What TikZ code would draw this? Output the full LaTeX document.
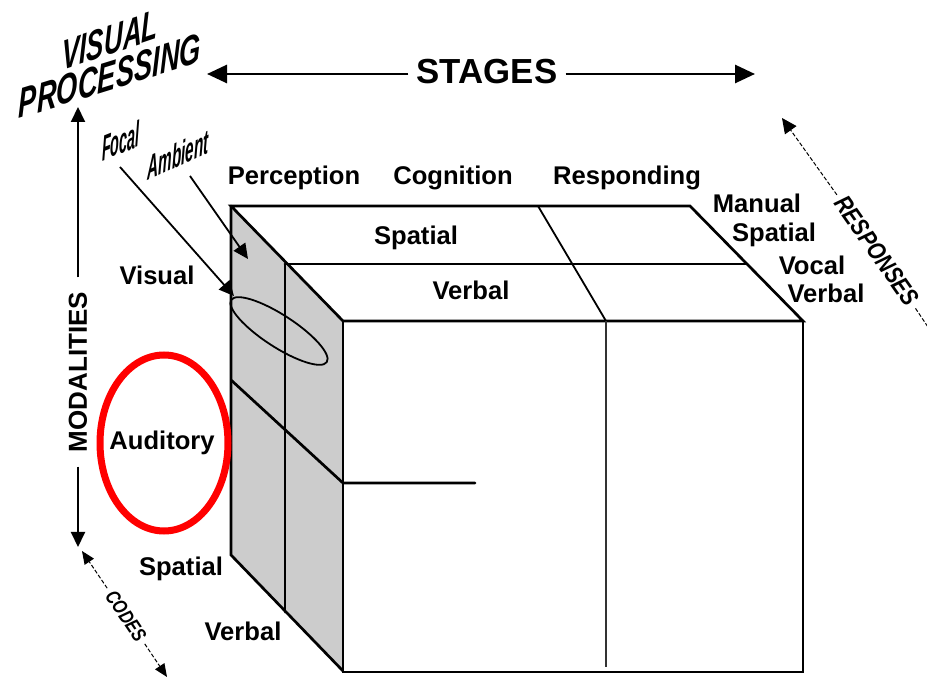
\documentclass[tikz,border=0pt]{standalone}
\usepackage{fontspec}
\setmainfont{Liberation Sans}
\usetikzlibrary{arrows.meta}
\begin{document}
\begin{tikzpicture}[x=0.5pt,y=-0.5pt,
  lbl/.style={font=\bfseries\fontsize{12.8pt}{15pt}\selectfont, inner sep=0pt, anchor=base},
  cubeline/.style={line width=1.35pt, line join=miter, line cap=round},
  fine/.style={line width=0.9pt},
  hair/.style={line width=0.5pt, dash pattern=on 2pt off 1pt},
  bigtip/.style={-{Triangle[length=10pt,width=9pt]}},
  midtip/.style={-{Triangle[length=7.5pt,width=7pt]}},
  smalltip/.style={-{Triangle[length=6.5pt,width=5.5pt]}},
  slanted/.style={font=\bfseries\itshape\fontsize{21pt}{23pt}\selectfont, inner sep=0pt}
]
\useasboundingbox (0,0) rectangle (927,678);

% shaded left face of the block
\fill[black!20] (231,206) -- (343,321) -- (343,670) -- (231,555) -- cycle;

% top face
\draw[cubeline] (231,206) -- (690,206) -- (803,321) -- (343,321) -- cycle;
\draw[cubeline] (285,264) -- (747,264);
% front face
\draw[cubeline] (343,321) -- (343,672) -- (803,672) -- (803,321);
% left face
\draw[cubeline] (231,206) -- (231,555) -- (343,671);
\draw[cubeline] (285,264) -- (285,612);
\draw[cubeline] (231,380) -- (343,483) -- (475,483);

% stage divider
\draw[fine] (538,206) -- (606,321);
\draw[fine, black!80] (606,321) -- (606,667);

% focal region on the left face
\draw[fine, rotate around={-33:(279,331)}] (279,331) ellipse [x radius=57, y radius=16];

% auditory highlight
\draw[red, line width=3.5pt] (164,443) ellipse [x radius=64, y radius=88];

% stage labels
\node[lbl] (perc) at (294,185) {Perception};
\node[lbl] (cogn) at (453,185) {Cognition};
\node[lbl] (resp) at (627,185) {Responding};

% codes on the top face
\node[lbl] (topSpatial) at (416,245) {Spatial};
\node[lbl] (topVerbal) at (471,300) {Verbal};

% responses
\node[lbl] (manual) at (757,213) {Manual};
\node[lbl] (manSpatial) at (774,242) {Spatial};
\node[lbl] (vocal) at (812,275) {Vocal};
\node[lbl] (vocVerbal) at (826,303) {Verbal};

% modalities and codes on the left
\node[lbl] (visual) at (157,285) {Visual};
\node[lbl] (auditory) at (162,450) {Auditory};
\node[lbl] (lowSpatial) at (181,575) {Spatial};
\node[lbl] (lowVerbal) at (243,640) {Verbal};

% stages axis
\node[font=\bfseries\fontsize{17.4pt}{20pt}\selectfont, inner sep=4pt] (stages) at (487,72) {STAGES};
\coordinate (stL) at (207,74);
\coordinate (stR) at (755,74);
\draw[line width=1.4pt, bigtip] (stages.west |- stL) -- (stL);
\draw[line width=1.4pt, bigtip] (stages.east |- stR) -- (stR);

% modalities / visual processing axis
\node[font=\bfseries\fontsize{13pt}{15pt}\selectfont, rotate=90, inner sep=7pt] (modal) at (78,372) {MODALITIES};
\coordinate (vpTip) at (78,107);
\coordinate (modTip) at (78,547);
\draw[line width=1pt, midtip] (modal) -- (vpTip);
\draw[line width=1pt, midtip] (modal) -- (modTip);

% visual processing
\node[slanted, yslant=0.34, xscale=0.62] (vpA) at (110,40) {VISUAL};
\node[slanted, yslant=0.31, xscale=0.65] (vpB) at (110,76) {PROCESSING};
\node[slanted, font=\bfseries\itshape\fontsize{18pt}{20pt}\selectfont, yslant=0.4, xscale=0.4] (focal) at (121,141) {Focal};
\node[slanted, font=\bfseries\itshape\fontsize{17pt}{19pt}\selectfont, yslant=0.45, xscale=0.45] (ambient) at (178,155) {Ambient};
\coordinate (focalStart) at (120,167);
\coordinate (focalTip) at (234,296);
\coordinate (ambStart) at (190,176);
\coordinate (ambTip) at (248,259);
\draw[fine, midtip] (focalStart) -- (focalTip);
\draw[fine, midtip] (ambStart) -- (ambTip);

% responses axis
\node[font=\bfseries\itshape\fontsize{12.5pt}{14pt}\selectfont, rotate=-55, xscale=0.82, inner sep=3pt] (responses) at (877,251) {RESPONSES};
\coordinate (respTip) at (782,118);
\coordinate (respEnd) at (932,333);
\draw[hair, midtip] (responses) -- (respTip);
\draw[hair] (responses) -- (respEnd);

% codes axis
\node[font=\bfseries\itshape\fontsize{10pt}{12pt}\selectfont, rotate=-56, xscale=0.8, inner sep=3pt] (codes) at (126,616) {CODES};
\coordinate (codesTipA) at (82,551);
\coordinate (codesTipB) at (167,677);
\draw[hair, smalltip] (codes) -- (codesTipA);
\draw[hair, smalltip] (codes) -- (codesTipB);
\end{tikzpicture}
\end{document}
